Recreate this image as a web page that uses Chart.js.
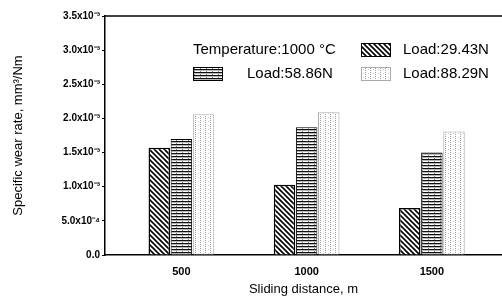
<!DOCTYPE html>
<html>
<head>
<meta charset="utf-8">
<script src="https://cdn.jsdelivr.net/npm/chart.js@4/dist/chart.umd.min.js"></script>
<style>
  html, body { margin: 0; padding: 0; background: #fff; }
  #wrap { width: 502px; height: 300px; }
</style>
</head>
<body>
<div id="wrap"><canvas id="wearChart"></canvas></div>
<script>
// sliding distance (m)
const distances = [500, 1000, 1500];
// specific wear rate, mm3/Nm
const load2943 = [0.00157, 0.00103, 0.00069];
const load5886 = [0.00170, 0.00187, 0.00150];
const load8829 = [0.00206, 0.00209, 0.00181];
const seriesLabels = ['Load:29.43N', 'Load:58.86N', 'Load:88.29N'];
const yTickLabels = ['0.0', '5.0x10\u207B\u2074', '1.0x10\u207B\u00B3', '1.5x10\u207B\u00B3',
  '2.0x10\u207B\u00B3', '2.5x10\u207B\u00B3', '3.0x10\u207B\u00B3', '3.5x10\u207B\u00B3'];
const legendNote = 'Temperature:1000 \u00B0C';

// fill patterns
function makePattern(kind) {
  const c = document.createElement('canvas');
  const ctx = c.getContext('2d');
  if (kind === 'diag') {
    c.width = 5; c.height = 5;
    ctx.fillStyle = '#fff';
    ctx.fillRect(0, 0, 5, 5);
    ctx.strokeStyle = '#000';
    ctx.lineWidth = 1.6;
    ctx.beginPath();
    ctx.moveTo(-1, -1); ctx.lineTo(6, 6);
    ctx.moveTo(-6, -1); ctx.lineTo(1, 6);
    ctx.moveTo(4, -1); ctx.lineTo(11, 6);
    ctx.stroke();
  } else if (kind === 'horiz') {
    c.width = 6; c.height = 3;
    ctx.fillStyle = '#fff';
    ctx.fillRect(0, 0, 6, 3);
    ctx.fillStyle = '#111';
    ctx.fillRect(0, 0, 6, 1.3);
    ctx.fillStyle = '#888';
    ctx.fillRect(2, 2, 1, 1);
  } else {
    c.width = 5; c.height = 4;
    ctx.fillStyle = '#fff';
    ctx.fillRect(0, 0, 5, 4);
    ctx.fillStyle = '#9a9a9a';
    ctx.fillRect(0, 0, 1, 1);
    ctx.fillRect(0, 2, 1, 1);
    ctx.fillStyle = '#c8c8c8';
    ctx.fillRect(3, 1, 1, 1);
  }
  return ctx.createPattern(c, 'repeat');
}

const fills = [makePattern('diag'), makePattern('horiz'), makePattern('dots')];
const borders = ['#000', '#000', '#aaa'];

function points(values) {
  return distances.map(function(d, i) { return { x: d, y: values[i] }; });
}

// legend and top frame drawn on the canvas
const framePlugin = {
  id: 'frameAndLegend',
  afterDraw(chart) {
    const ctx = chart.ctx;
    const a = chart.chartArea;
    ctx.save();
    ctx.strokeStyle = '#000';
    ctx.lineWidth = 1.5;
    ctx.beginPath();
    ctx.moveTo(a.left, a.top);
    ctx.lineTo(a.right + 2, a.top);
    ctx.stroke();

    ctx.font = '15px "Liberation Sans", Arial, sans-serif';
    ctx.fillStyle = '#000';
    ctx.textBaseline = 'middle';
    ctx.fillText(legendNote, 193, 50);
    const boxes = [[361, 43], [193, 67], [361, 67]];
    const texts = [[403, 50], [247, 74], [403, 74]];
    boxes.forEach(function(b, i) {
      ctx.fillStyle = fills[i];
      ctx.fillRect(b[0], b[1], 30, 14);
      ctx.strokeStyle = borders[i];
      ctx.lineWidth = 1;
      ctx.strokeRect(b[0] + 0.5, b[1] + 0.5, 29, 13);
      ctx.fillStyle = '#000';
      ctx.fillText(seriesLabels[i], texts[i][0], texts[i][1]);
    });
    ctx.restore();
  }
};

new Chart(document.getElementById('wearChart'), {
  type: 'bar',
  data: {
    datasets: [load2943, load5886, load8829].map(function(vals, i) {
      return {
        label: seriesLabels[i],
        data: points(vals),
        backgroundColor: fills[i],
        borderColor: borders[i],
        borderWidth: i === 0 ? 1.5 : 1,
        categoryPercentage: 0.53,
        barPercentage: 0.97
      };
    })
  },
  options: {
    responsive: true,
    maintainAspectRatio: false,
    animation: false,
    layout: { padding: { top: 16, right: 0, left: 0, bottom: 3 } },
    plugins: { legend: { display: false }, tooltip: { enabled: false } },
    scales: {
      x: {
        type: 'linear',
        offset: false,
        min: 195,
        max: 1780,
        afterBuildTicks: function(scale) {
          scale.ticks = distances.map(function(d) { return { value: d }; });
        },
        afterFit: function(scale) { scale.height = 42; },
        grid: { display: false },
        border: { color: '#000', width: 1.5 },
        ticks: {
          padding: 2,
          color: '#000',
          font: { family: '"Liberation Sans", Arial, sans-serif', size: 11, weight: 'bold' },
          callback: function(v) { return String(v); }
        },
        title: {
          display: true,
          text: 'Sliding distance, m',
          color: '#000',
          padding: { top: 4, bottom: 0 },
          font: { family: '"Liberation Sans", Arial, sans-serif', size: 13 }
        }
      },
      y: {
        min: 0,
        max: 0.0035,
        afterBuildTicks: function(scale) {
          scale.ticks = yTickLabels.map(function(t, i) { return { value: i * 0.0005 }; });
        },
        afterFit: function(scale) { scale.width = 105; },
        grid: { display: true, drawOnChartArea: false, tickLength: 3, color: '#000' },
        border: { color: '#000', width: 1.5 },
        ticks: {
          padding: 2,
          color: '#000',
          font: { family: '"Liberation Sans", Arial, sans-serif', size: 10, weight: 'bold' },
          callback: function(v, i) { return yTickLabels[i]; }
        },
        title: {
          display: true,
          text: 'Specific wear rate, mm\u00B3/Nm',
          color: '#000',
          padding: { top: 11, bottom: 0 },
          font: { family: '"Liberation Sans", Arial, sans-serif', size: 13 }
        }
      }
    }
  },
  plugins: [framePlugin]
});
</script>
</body>
</html>
